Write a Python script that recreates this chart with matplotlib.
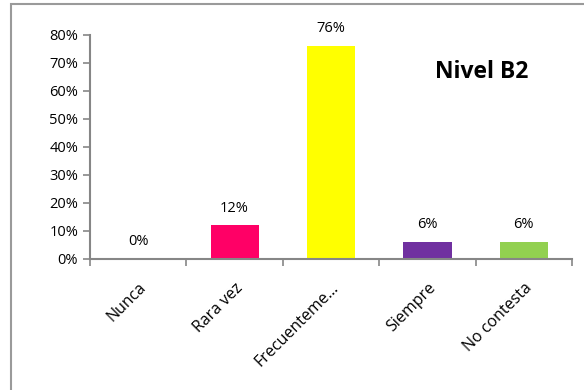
import matplotlib.pyplot as plt
from matplotlib.patches import Rectangle
import numpy as np

plt.rcParams['font.family'] = ['Open Sans', 'DejaVu Sans']

categorias = ["Nunca", "Rara vez", "Frecuenteme\u2026", "Siempre", "No contesta"]
valores = [0.0, 0.12, 0.76, 0.06, 0.06]
colores = ["#4F81BD", "#FF0066", "#FFFF00", "#7030A0", "#92D050"]
eje_gris = "#868686"

fig = plt.figure(figsize=(5.84, 3.90), dpi=100)
ax = fig.add_axes([90/584, 1 - 259/390, (572 - 90)/584, (259 - 35)/390])

x = np.arange(len(categorias)) + 0.5
barras = ax.bar(x, valores, width=0.5, color=colores)

for xi, v in zip(x, valores):
    ax.annotate(f"{v*100:.0f}%", (xi, v), xytext=(0, 7), textcoords="offset points",
                ha="center", va="bottom", fontsize=10.5)

ax.set_xlim(0, len(categorias))
ax.set_ylim(0, 0.8)
ax.set_yticks(np.arange(0, 0.81, 0.1))
ax.set_yticklabels([f"{t}%" for t in range(0, 81, 10)], fontsize=10.5)

# tick marks at the category boundaries, labels at the centres
ax.set_xticks(np.arange(len(categorias) + 1), minor=True)
ax.set_xticks(x)
ax.set_xticklabels(categorias, rotation=45, ha="right", rotation_mode="anchor", fontsize=11.5)
ax.tick_params(axis="x", which="major", length=0, pad=15)
ax.tick_params(axis="x", which="minor", length=5, color=eje_gris, width=1.2)
ax.tick_params(axis="y", length=5, color=eje_gris, width=1.2)

for s in ["top", "right"]:
    ax.spines[s].set_visible(False)
for s in ["left", "bottom"]:
    ax.spines[s].set_color(eje_gris)
    ax.spines[s].set_linewidth(1.5)

ax.text(0.813, 0.835, "Nivel B2", transform=ax.transAxes, ha="center", va="center",
        fontsize=16.5, fontweight="bold")

# chart area border
fig.patches.append(Rectangle((11/584, -0.1), 1.0, (390 - 4)/390 + 0.1,
                             transform=fig.transFigure, fill=False,
                             edgecolor="#9a9a9a", linewidth=1.5))

fig.savefig("out.png", dpi=100)
